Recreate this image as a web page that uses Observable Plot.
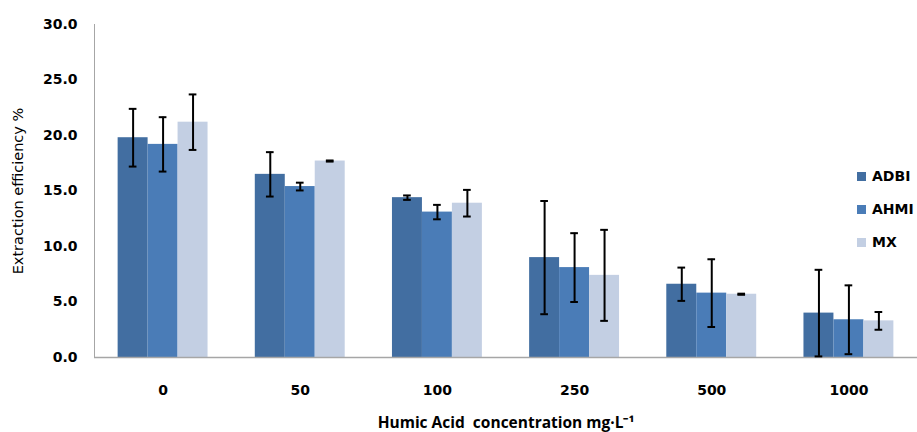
<!DOCTYPE html>
<html><head><meta charset="utf-8">
<script src="https://cdn.jsdelivr.net/npm/d3@7"></script>
<script src="https://cdn.jsdelivr.net/npm/@observablehq/plot@0.6"></script>
<style>
body{margin:0;background:#fff;}
#wrap{position:relative;width:917px;height:432px;}
#legend{position:absolute;left:857px;top:167px;font:bold 14px "DejaVu Sans",sans-serif;color:#000;}
.item{display:flex;align-items:center;height:18px;margin-bottom:15px;}
.sw{width:9px;height:9px;margin-right:6px;}
svg [aria-label="y-axis label"]{font-weight:normal;font-size:14.5px;}
svg [aria-label="x-axis label"]{font-family:"Open Sans",sans-serif;font-size:15.5px;}
</style>
</head><body>
<div id="wrap"><div id="legend"></div></div>
<script>
const groups = ["0", "50", "100", "250", "500", "1000"];
const series = ["ADBI", "AHMI", "MX"];
const adbi = [19.8, 16.5, 14.4, 9.0, 6.6, 4.0];
const adbiErr = [2.6, 2.0, 0.2, 5.1, 1.5, 3.9];
const ahmi = [19.2, 15.4, 13.1, 8.1, 5.8, 3.4];
const ahmiErr = [2.45, 0.35, 0.65, 3.1, 3.05, 3.1];
const mx = [21.2, 17.7, 13.9, 7.4, 5.7, 3.3];
const mxErr = [2.5, 0.05, 1.2, 4.1, 0.05, 0.8];
const yTicks = [0, 5, 10, 15, 20, 25, 30];
const colors = ["#426EA1", "#4A7CB7", "#C3CFE3"];

const values = [adbi, ahmi, mx];
const errs = [adbiErr, ahmiErr, mxErr];
const rows = groups.flatMap((g, i) => series.map((s, j) => ({g, i, j, s, v: values[j][i], e: errs[j][i]})));

const w = 0.2185;   // bar width in group units
const cap = 0.028;  // error cap half-width
const cx = d => d.i + (d.j - 1) * w;

const chart = Plot.plot({
  width: 917, height: 432,
  marginLeft: 94, marginRight: 0, marginTop: 24, marginBottom: 75,
  style: {fontFamily: '"DejaVu Sans", sans-serif', fontSize: "14px", fontWeight: "bold", color: "#000", background: "#fff"},
  x: {type: "linear", domain: [-0.5, 5.5]},
  y: {domain: [0, 30]},
  color: {domain: series, range: colors},
  marks: [
    Plot.rectY(rows, {x1: d => d.i + (d.j - 1.5) * w, x2: d => d.i + (d.j - 0.5) * w, y1: 0, y2: "v", fill: "s"}),
    Plot.ruleY([0], {stroke: "#a6a6a6", strokeWidth: 1.5}),
    Plot.ruleX([-0.5], {y1: 0, y2: 30, stroke: "#a6a6a6", strokeWidth: 1}),
    Plot.ruleX(rows, {x: cx, y1: d => d.v - d.e, y2: d => d.v + d.e, stroke: "#000", strokeWidth: 2}),
    Plot.ruleY(rows, {y: d => d.v + d.e, x1: d => cx(d) - cap, x2: d => cx(d) + cap, stroke: "#000", strokeWidth: 2}),
    Plot.ruleY(rows, {y: d => d.v - d.e, x1: d => cx(d) - cap, x2: d => cx(d) + cap, stroke: "#000", strokeWidth: 2}),
    Plot.axisY({ticks: yTicks, tickFormat: d => d.toFixed(1), tickSize: 0, tickPadding: 17,
      label: "Extraction efficiency %", labelAnchor: "center", labelOffset: 82, labelArrow: "none"}),
    Plot.axisX({ticks: d3.range(groups.length), tickFormat: i => groups[i], tickSize: 0, tickPadding: 28,
      label: "Humic Acid\u00a0 concentration mg·L\u207B\u00B9", labelAnchor: "center", labelOffset: 70, labelArrow: "none"})
  ]
});
document.getElementById("wrap").prepend(chart);

const legend = document.getElementById("legend");
series.forEach((s, j) => {
  const it = document.createElement("div");
  it.className = "item";
  it.innerHTML = `<span class="sw" style="background:${colors[j]}"></span><span>${s}</span>`;
  legend.appendChild(it);
});
</script>
</body></html>
